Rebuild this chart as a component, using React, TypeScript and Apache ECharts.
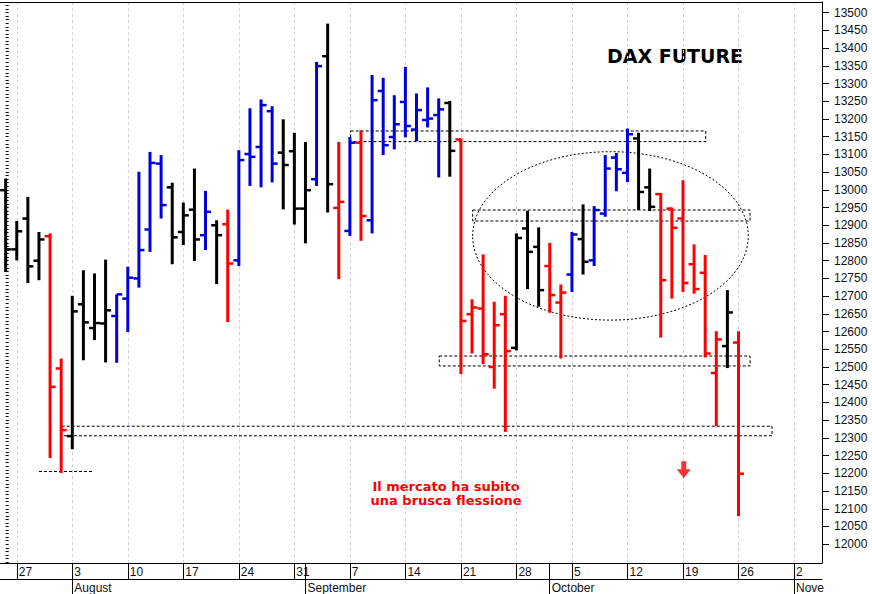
import React, { useEffect, useRef } from 'react';
import * as echarts from 'echarts';

// ---------- data ----------
const startDate = '2020-07-24';
const axisDayCount = 74; // trading days on the axis (bars + empty days up to early November)

const opens = [12999, 12832, 12919, 12800, 12869, 12496, 12305, 12677, 12610, 12623, 12644, 12693, 12750, 12888, 13074, 13007, 12881, 12944, 12872, 12900, 12903, 12801, 13101, 13121, 13222, 13105, 13109, 12947, 13030, 13377, 12949, 12884, 13133, 12914, 13279, 13149, 13248, 13170, 13197, 13211, 13245, 13142, 12649, 12665, 12500, 12649, 12554, 12891, 12839, 12785, 12682, 12761, 12861, 12801, 12933, 13091, 13048, 13145, 13007, 12988, 12947, 12919, 12790, 12766, 12483, 12559, 12569];
const highs = [13032, 12912, 12980, 12881, 12877, 12524, 12701, 12773, 12764, 12803, 12705, 12783, 13051, 13107, 13098, 13020, 12964, 13060, 12997, 12914, 12944, 13112, 13230, 13255, 13236, 13199, 13161, 13135, 13361, 13469, 13135, 13149, 13168, 13324, 13316, 13267, 13347, 13272, 13289, 13258, 13251, 13145, 12691, 12818, 12684, 12701, 12877, 12941, 12894, 12850, 12733, 12881, 12959, 12954, 13098, 13104, 13173, 13161, 13060, 12991, 12950, 13027, 12846, 12816, 12601, 12717, 12601];
const lows = [12768, 12801, 12737, 12745, 12243, 12201, 12268, 12519, 12576, 12513, 12512, 12599, 12724, 12825, 12919, 12790, 12844, 12799, 12830, 12734, 12627, 12785, 13011, 13007, 13021, 12945, 12902, 12849, 13011, 12936, 12748, 12870, 12856, 12877, 13098, 13114, 13148, 13137, 13176, 13035, 13037, 12480, 12538, 12508, 12439, 12317, 12547, 12720, 12670, 12653, 12524, 12712, 12761, 12785, 12924, 12996, 13022, 12943, 12940, 12583, 12693, 12712, 12707, 12527, 12333, 12497, 12079];
const closes = [12832, 12883, 12784, 12860, 12444, 12322, 12657, 12626, 12624, 12660, 12705, 12752, 12830, 13076, 12957, 12866, 12928, 12860, 12938, 12872, 12792, 13084, 13093, 13239, 13074, 13070, 12947, 12999, 13349, 13016, 12966, 13133, 12926, 13253, 13126, 13185, 13180, 13225, 13201, 13227, 13110, 12630, 12668, 12536, 12618, 12545, 12864, 12825, 12717, 12703, 12710, 12874, 12797, 12943, 13060, 13058, 13157, 12994, 12952, 12745, 12893, 12737, 12720, 12538, 12578, 12654, 12199];
// signal state of each bar: N neutral (black), U up (blue), D down (red)
const signals = ['N','N','N','N','D','D','N','N','N','N','U','U','U','U','U','N','N','N','U','N','D','U','U','U','U','N','N','N','U','N','D','U','D','U','U','U','U','U','U','U','N','D','D','D','D','D','N','N','N','D','D','U','N','U','U','U','U','N','N','D','D','D','D','D','D','N','D'];

const priceTicks = [12000, 12050, 12100, 12150, 12200, 12250, 12300, 12350, 12400, 12450, 12500, 12550, 12600, 12650, 12700, 12750, 12800, 12850, 12900, 12950, 13000, 13050, 13100, 13150, 13200, 13250, 13300, 13350, 13400, 13450, 13500];
const monthNames = ['January', 'February', 'March', 'April', 'May', 'June', 'July', 'August', 'September', 'October', 'November', 'December'];

// annotation zones: [fromIndex, topPrice, toIndex, bottomPrice]
const zones = [
  [31.07, 13166, 63.05, 13136],
  [42.06, 12943, 67.04, 12912],
  [39.05, 12531, 67.04, 12503],
  [5.05, 12333, 69.02, 12306],
];
const supportLine = [3.0, 7.95, 12206];
const ellipseZone = [54.47, 12870, 12.41, 237.6]; // centre index, centre price, radius (days), radius (points)
const arrowPoint = [61.07, 12210];

const titleText = 'DAX FUTURE';
const noteLines = ['Il mercato ha subito', 'una brusca flessione'];

// ---------- helpers ----------
function tradingDays(start: string, n: number) {
  const out: Date[] = [];
  const d = new Date(start + 'T00:00:00Z');
  while (out.length < n) {
    const wd = d.getUTCDay();
    if (wd !== 0 && wd !== 6) out.push(new Date(d.getTime()));
    d.setUTCDate(d.getUTCDate() + 1);
  }
  return out;
}

const COLORS: Record<string, string> = { N: '#000000', U: '#0000dc', D: '#ff0000' };
const FONT = '"Liberation Sans", Arial, sans-serif';

export default function App() {
  const ref = useRef<HTMLDivElement>(null);
  useEffect(() => {
    if (!ref.current) return;
    const chart = echarts.init(ref.current, undefined, { renderer: 'svg' });
    const days = tradingDays(startDate, axisDayCount);
    const mondays: number[] = [];
    const monthStarts: number[] = [];
    days.forEach((d, i) => {
      if (d.getUTCDay() === 1) mondays.push(i);
      if (i > 0 && d.getUTCMonth() !== days[i - 1].getUTCMonth()) monthStarts.push(i);
    });
    const weekTicks = Array.from(new Set([...mondays, ...monthStarts])).sort((a, b) => a - b);
    const xMin = -0.51;
    const xMax = 73.52;
    const yMin = 11947;
    const yMax = 13530;
    const minorTicks: number[] = [];
    for (let v = 11950; v <= 13530; v += 10) minorTicks.push(v);
    const plotW = 822;
    const pxPerDay = plotW / (xMax - xMin);

    const ohlc = opens.map((o, i) => [i, o, highs[i], lows[i], closes[i]]);

    const axisText = { color: '#111', fontSize: 12, fontFamily: FONT };

    const option: any = {
      animation: false,
      backgroundColor: '#ffffff',
      grid: { left: 0, right: 50, top: 2, bottom: 31, containLabel: false, outerBoundsMode: 'none' },
      xAxis: [
        {
          type: 'value', min: xMin, max: xMax, position: 'bottom',
          axisLine: { show: true, onZero: false, lineStyle: { color: '#000', width: 1 } },
          axisTick: { show: true, customValues: weekTicks, length: 16, lineStyle: { color: '#000', width: 1 } },
          axisLabel: {
            show: true, customValues: mondays, ...axisText, align: 'left', margin: 3, padding: [0, 0, 0, 2],
            formatter: (v: number) => String(days[Math.round(v)].getUTCDate()),
          },
          splitLine: { show: false },
        },
        {
          type: 'value', min: xMin, max: xMax, position: 'bottom', offset: 16,
          axisLine: { show: true, onZero: false, lineStyle: { color: '#000', width: 1 } },
          axisTick: { show: true, customValues: monthStarts, length: 15, lineStyle: { color: '#000', width: 1 } },
          axisLabel: {
            show: true, customValues: monthStarts, ...axisText, align: 'left', margin: 3, padding: [0, 0, 0, 2],
            formatter: (v: number) => {
              const i = Math.round(v);
              const name = monthNames[days[i].getUTCMonth()];
              const avail = (xMax - i) * pxPerDay + 5;
              const fmt: any = (echarts as any).format;
              if (fmt && fmt.truncateText) {
                return fmt.truncateText(name, avail, '12px ' + FONT, '', { minChar: 1 });
              }
              return name;
            },
          },
          splitLine: { show: false },
        },
        {
          type: 'value', min: xMin, max: xMax, position: 'top',
          axisLine: { show: true, onZero: false, lineStyle: { color: '#000', width: 1 } },
          axisTick: { show: false, customValues: mondays },
          axisLabel: { show: false, customValues: mondays },
          splitLine: { show: true, lineStyle: { color: '#cfcfdf', type: [3, 3], width: 1 } },
        },
      ],
      yAxis: [
        {
          type: 'value', position: 'right', min: yMin, max: yMax,
          axisLine: { show: true, onZero: false, lineStyle: { color: '#000', width: 1 } },
          axisTick: { show: true, customValues: priceTicks, length: 7, lineStyle: { color: '#000', width: 1 } },
          axisLabel: { show: true, customValues: priceTicks, margin: 12, ...axisText, formatter: (v: number) => String(v) },
          splitLine: { show: false },
        },
        {
          type: 'value', position: 'right', min: yMin, max: yMax,
          axisLine: { show: false },
          axisTick: { show: true, customValues: minorTicks, length: 3, lineStyle: { color: '#000', width: 1 } },
          axisLabel: { show: false },
          splitLine: { show: false },
        },
      ],
      series: [
        {
          type: 'scatter',
          xAxisIndex: 0, yAxisIndex: 0, z: 1,
          data: [arrowPoint],
          symbol: 'path://M4.5,0 L9.5,0 L9.5,8 L14,8 L7,17 L0,8 L4.5,8 Z',
          symbolSize: [14, 17],
          itemStyle: { color: '#ff0000' },
          silent: true,
          markLine: {
            silent: true, symbol: 'none', label: { show: false },
            lineStyle: { color: '#000', type: [3, 2], width: 1 },
            data: [
              [
                { coord: [supportLine[0], supportLine[2]] },
                { coord: [supportLine[1], supportLine[2]] },
              ],
            ],
          },
          markArea: {
            silent: true,
            itemStyle: { color: 'rgba(0,0,0,0)', borderColor: '#000', borderWidth: 1, borderType: [3, 2] },
            data: zones.map((z) => [{ coord: [z[0], z[1]] }, { coord: [z[2], z[3]] }]),
          },
        },
        {
          type: 'custom',
          xAxisIndex: 0, yAxisIndex: 0, z: 5,
          data: ohlc,
          encode: { x: 0, y: [1, 2, 3, 4] },
          clip: true,
          renderItem: (params: any, api: any) => {
            const i = api.value(0);
            const pO = api.coord([i, api.value(1)]);
            const pH = api.coord([i, api.value(2)]);
            const pL = api.coord([i, api.value(3)]);
            const pC = api.coord([i, api.value(4)]);
            const col = COLORS[signals[params.dataIndex]];
            return {
              type: 'group',
              children: [
                { type: 'line', shape: { x1: pH[0], y1: pH[1], x2: pL[0], y2: pL[1] }, style: { stroke: col, lineWidth: 3 } },
                { type: 'line', shape: { x1: pO[0] - 5.5, y1: pO[1], x2: pO[0], y2: pO[1] }, style: { stroke: col, lineWidth: 2.5 } },
                { type: 'line', shape: { x1: pC[0], y1: pC[1], x2: pC[0] + 5.5, y2: pC[1] }, style: { stroke: col, lineWidth: 2.5 } },
              ],
            };
          },
        },
        {
          type: 'custom',
          xAxisIndex: 0, yAxisIndex: 0, z: 2,
          data: [ellipseZone],
          encode: { x: 0, y: 1 },
          silent: true,
          renderItem: (_params: any, api: any) => {
            const c = api.coord([api.value(0), api.value(1)]);
            const s = api.size([api.value(2), api.value(3)]);
            return {
              type: 'ellipse',
              shape: { cx: c[0], cy: c[1], rx: s[0], ry: s[1] },
              style: { fill: 'rgba(0,0,0,0)', stroke: '#000', lineWidth: 1, lineDash: [2, 2] },
            };
          },
        },
      ],
      graphic: [
        {
          type: 'text', x: 675, y: 56, silent: true,
          style: { text: titleText, font: 'bold 19px "DejaVu Sans", Verdana, sans-serif', fill: '#000', align: 'center', verticalAlign: 'middle' },
        },
        {
          type: 'text', x: 446, y: 486, silent: true,
          style: { text: noteLines[0], font: 'bold 13px "DejaVu Sans", Verdana, sans-serif', fill: '#ff0000', align: 'center', verticalAlign: 'middle' },
        },
        {
          type: 'text', x: 446, y: 500, silent: true,
          style: { text: noteLines[1], font: 'bold 13px "DejaVu Sans", Verdana, sans-serif', fill: '#ff0000', align: 'center', verticalAlign: 'middle' },
        },
      ],
    };
    chart.setOption(option);
    return () => chart.dispose();
  }, []);
  return (
    <div
      ref={ref}
      style={{ position: 'fixed', left: 0, top: 0, width: 872, height: 594, background: '#fff' }}
    />
  );
}
